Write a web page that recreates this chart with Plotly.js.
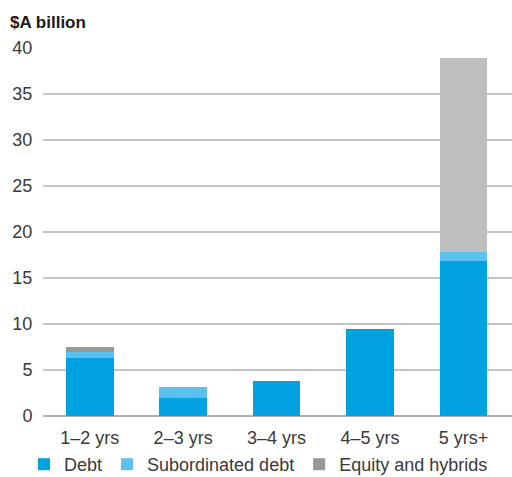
<!DOCTYPE html>
<html>
<head>
<meta charset="utf-8">
<script src="https://cdn.plot.ly/plotly-3.0.1.min.js"></script>
<style>html,body{margin:0;padding:0;background:#fff;}#chart{width:512px;height:477px;}</style>
</head>
<body>
<div id="chart"></div>
<script>
const categories = ['1–2 yrs', '2–3 yrs', '3–4 yrs', '4–5 yrs', '5 yrs+'];
const debt = [6.3, 1.95, 3.8, 9.5, 16.8];
const subordinatedDebt = [0.65, 1.2, 0, 0, 1.0];
const equityHybrids = [0.55, 0, 0, 0, 21.1];
const equityColors = ['#97989a', '#bdbec0', '#bdbec0', '#bdbec0', '#bdbec0'];
const yTicks = [0, 5, 10, 15, 20, 25, 30, 35, 40];

const font = {family: 'Liberation Sans, Arial, sans-serif', size: 18, color: '#3a3a3a'};

const traces = [
  {type: 'bar', name: 'Debt', x: categories, y: debt, marker: {color: '#00a3e0'}},
  {type: 'bar', name: 'Subordinated debt', x: categories, y: subordinatedDebt, marker: {color: '#5cc1ee'}},
  {type: 'bar', name: 'Equity and hybrids', x: categories, y: equityHybrids, marker: {color: equityColors}}
];

const layout = {
  width: 512, height: 477,
  margin: {l: 43, r: 0, t: 48, b: 61, autoexpand: false},
  barmode: 'stack',
  bargap: 0.49,
  font: font,
  paper_bgcolor: '#fff', plot_bgcolor: '#fff',
  showlegend: true,
  title: {text: '$A billion', x: 10/512, xanchor: 'left', xref: 'container', y: 1 - 16/477, yanchor: 'top', yref: 'container',
    font: {family: 'Liberation Sans, Arial, sans-serif', size: 17, color: '#1a1a1a', weight: 'bold'}},
  xaxis: {type: 'category', range: [-0.5, 4.52], showgrid: false, showline: false, zeroline: false,
    ticks: 'outside', ticklen: 5, tickcolor: 'rgba(0,0,0,0)', tickfont: font, fixedrange: true},
  yaxis: {range: [0, 40], tickvals: yTicks, showgrid: true, gridcolor: '#c4c4c4', gridwidth: 1.3,
    zeroline: true, zerolinecolor: '#b0b0b0', zerolinewidth: 1.5, showline: false,
    ticks: 'outside', ticklen: 6, tickcolor: 'rgba(0,0,0,0)', tickfont: font, fixedrange: true},
  legend: {orientation: 'h', xref: 'container', x: 24/512, xanchor: 'left', yref: 'container', y: 1 - 446/477, yanchor: 'top',
    font: font, traceorder: 'normal', bgcolor: 'rgba(0,0,0,0)'}
};

Plotly.newPlot('chart', traces, layout, {displayModeBar: false, staticPlot: true});
</script>
</body>
</html>
